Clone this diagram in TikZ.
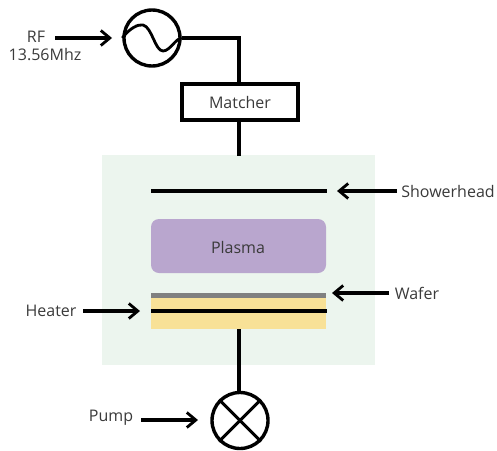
\documentclass[tikz,border=0pt]{standalone}
\usepackage{fontspec}
\setmainfont{Open Sans}
\usetikzlibrary{arrows.meta,calc}
\definecolor{chamber}{HTML}{ECF5EE}
\definecolor{plasmac}{HTML}{B9A6CE}
\definecolor{heaterc}{HTML}{F8E197}
\definecolor{waferc}{HTML}{808080}
\definecolor{txt}{HTML}{3A3A3A}
\tikzset{
  wire/.style={line width=3.6pt,black},
  pointer/.style={line width=3.2pt,black,-{Straight Barb[length=9pt,width=15pt,line width=2.8pt]}},
  lab/.style={text=txt,font=\fontsize{16pt}{18pt}\selectfont,inner sep=0pt,align=center},
  sym/.style={circle,draw=black,line width=3.4pt,minimum size=56pt,inner sep=0pt},
  region/.style={inner sep=0pt,outer sep=0pt,anchor=north west}
}
\begin{document}
\begin{tikzpicture}[x=1pt,y=-1pt]
\useasboundingbox (0,0) rectangle (497,450);
% regions
\node[region,fill=chamber,minimum width=273pt,minimum height=210pt] (chamberbox) at (102,155) {};
\node[region,fill=plasmac,rounded corners=8pt,minimum width=175pt,minimum height=54pt] (plasma) at (151,219) {};
\node[lab] at (238,247.5) {Plasma};
\node[region,fill=heaterc,minimum width=175pt,minimum height=32pt] (heater) at (151,297) {};
\node[region,fill=waferc,minimum width=175pt,minimum height=5pt] (wafer) at (151,293) {};
% symbols
\node[sym] (source) at (152,38) {};
\node[sym] (pump) at (240,420.5) {};
\node[draw=black,line width=3.4pt,minimum width=116pt,minimum height=36pt,inner sep=0pt,lab] (matcher) at (240,102) {Matcher};
% free points
\coordinate (corner) at (239,38);
\coordinate (matchertop) at (239,83);
\coordinate (matcherbot) at (239,121);
\coordinate (chambertop) at (239,156);
\coordinate (showerL) at (151,191);
\coordinate (showerR) at (327,191);
\coordinate (heatL) at (151,311);
\coordinate (heatR) at (327,311);
\coordinate (pipetop) at (239,329);
\coordinate (pipebot) at (239,393);
% wires
\draw[wire,line join=miter] (source.east) -- (corner) -- (matchertop);
\draw[wire] (matcherbot) -- (chambertop);
\draw[wire] (showerL) -- (showerR);
\draw[wire] (heatL) -- (heatR);
\draw[wire] (pipetop) -- (pipebot);
% sine
\draw[line width=2.8pt,black] (source.west) .. controls (130,28) and (138,24) .. (143,25)
  .. controls (152,27) and (155,51) .. (163,51)
  .. controls (170,51) and (176,38) .. (source.east);
% pump cross
\draw[line width=3pt] (pump.north west) -- (pump.south east);
\draw[line width=3pt] (pump.north east) -- (pump.south west);
% labels
\node[lab] (rf) at (36,37) {RF};
\node[lab] (freq) at (45,55) {13.56Mhz};
\node[lab] (shower) at (448,191) {Showerhead};
\node[lab] (waferl) at (417,293.5) {Wafer};
\node[lab] (heaterl) at (51,310.5) {Heater};
\node[lab] (pumpl) at (111,417.5) {Pump};
% pointers
\coordinate (a1) at (55,38);
\coordinate (a2) at (112,38);
\coordinate (b1) at (397,191);
\coordinate (b2) at (337,191);
\coordinate (c1) at (389,293);
\coordinate (c2) at (332,293);
\coordinate (d1) at (83,311);
\coordinate (d2) at (140,311);
\coordinate (e1) at (141,420);
\coordinate (e2) at (198,420);
\draw[pointer] (a1) -- (a2);
\draw[pointer] (b1) -- (b2);
\draw[pointer] (c1) -- (c2);
\draw[pointer] (d1) -- (d2);
\draw[pointer] (e1) -- (e2);
\end{tikzpicture}
\end{document}
